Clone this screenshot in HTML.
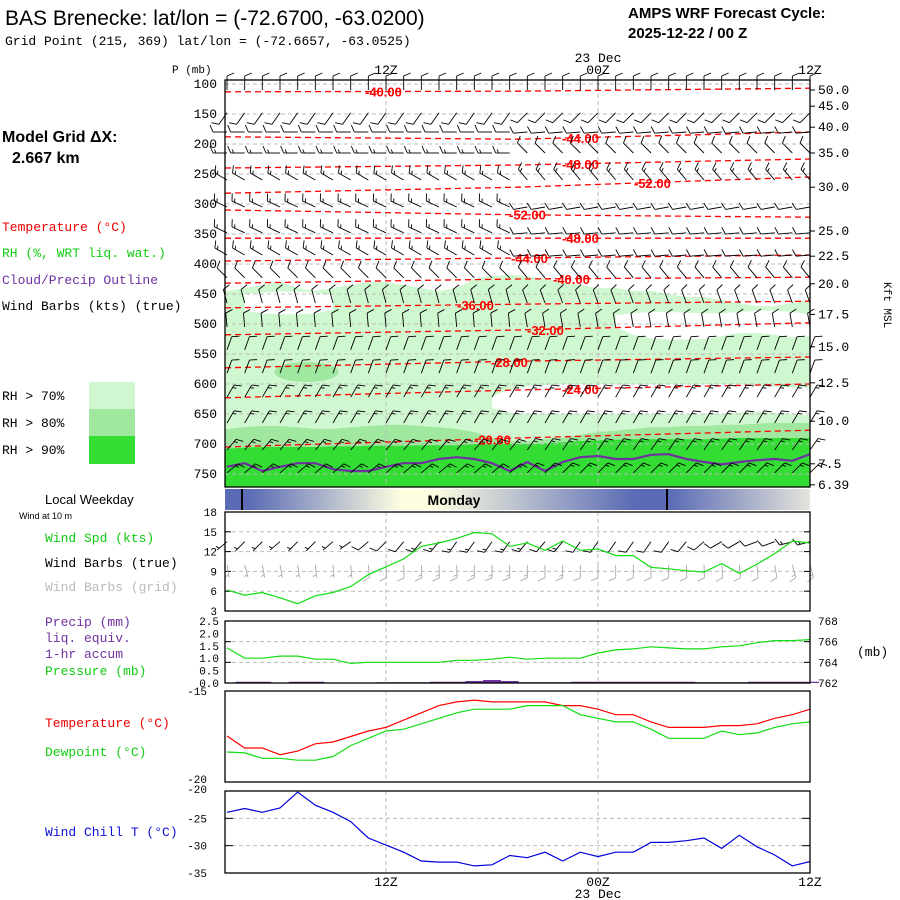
<!DOCTYPE html>
<html><head><meta charset="utf-8"><style>
body{margin:0;background:#fff;}
svg{display:block;font-family:"Liberation Mono",monospace;}
.sans{font-family:"Liberation Sans",Arial,sans-serif;}
</style></head><body>
<svg id="c" width="900" height="900" viewBox="0 0 900 900" xmlns="http://www.w3.org/2000/svg">
<defs>
<linearGradient id="dayg" x1="0" x2="1" y1="0" y2="0">
<stop offset="0" stop-color="#5b6bb5"/><stop offset="0.04" stop-color="#5b6bb5"/>
<stop offset="0.3" stop-color="#fdfde0"/><stop offset="0.36" stop-color="#fdfde0"/>
<stop offset="0.7" stop-color="#5b6bb5"/><stop offset="0.76" stop-color="#5b6bb5"/>
<stop offset="1" stop-color="#e4e4da"/></linearGradient>
</defs>
<g class="sans">
<text x="5" y="25" font-size="21" class="sans">BAS Brenecke:  lat/lon = (-72.6700, -63.0200)</text>
<text x="628" y="18" font-size="15" font-weight="bold" class="sans">AMPS WRF Forecast Cycle:</text>
<text x="628" y="38" font-size="15" font-weight="bold" class="sans">2025-12-22 / 00  Z</text>
</g>
<text x="5" y="45" font-size="13">Grid Point (215, 369) lat/lon = (-72.6657, -63.0525)</text>
<text x="2" y="142" font-size="16" font-weight="bold" class="sans">Model Grid ΔX:</text>
<text x="12" y="163" font-size="16" font-weight="bold" class="sans">2.667 km</text>
<text x="2" y="231" font-size="13" fill="#e00">Temperature (°C)</text>
<text x="2" y="257" font-size="13" fill="#1c1">RH (%, WRT liq. wat.)</text>
<text x="2" y="284" font-size="13" fill="#7030a0">Cloud/Precip Outline</text>
<text x="2" y="310" font-size="13">Wind Barbs (kts) (true)</text>
<rect x="89" y="382" width="46" height="27" fill="#d0f8d0"/>
<rect x="89" y="409" width="46" height="27" fill="#a0e8a0"/>
<rect x="89" y="436" width="46" height="28" fill="#33dd33"/>
<text x="2" y="400" font-size="13">RH &gt; 70%</text>
<text x="2" y="427" font-size="13">RH &gt; 80%</text>
<text x="2" y="454" font-size="13">RH &gt; 90%</text>
<text x="45" y="504" font-size="13" class="sans">Local Weekday</text>
<text x="19" y="519" font-size="9" class="sans">Wind at 10 m</text>
<text x="45" y="542" font-size="13" fill="#1c1">Wind Spd (kts)</text>
<text x="45" y="567" font-size="13">Wind Barbs (true)</text>
<text x="45" y="591" font-size="13" fill="#bbb">Wind Barbs (grid)</text>
<text x="45" y="626" font-size="13" fill="#7030a0">Precip (mm)</text>
<text x="45" y="642" font-size="13" fill="#7030a0">liq. equiv.</text>
<text x="45" y="658" font-size="13" fill="#7030a0">1-hr accum</text>
<text x="45" y="675" font-size="13" fill="#1c1">Pressure (mb)</text>
<text x="45" y="727" font-size="13" fill="#e00">Temperature (°C)</text>
<text x="45" y="756" font-size="13" fill="#1c1">Dewpoint (°C)</text>
<text x="45" y="836" font-size="13" fill="#1010dd">Wind Chill T (°C)</text>
<text x="172" y="73" font-size="11">P (mb)</text>
<text x="857" y="656" font-size="13">(mb)</text>
<text transform="translate(884,282) rotate(90)" font-size="11">Kft MSL</text>
<g id="plot"></g>
</svg>
<script>
// ---------- DATA ----------
const rh70Top=[445,440,435,430,440,445,440,435,430,430,435,440,445,440,425,420,418,420,425,430,435,440,440,445,445,450,455,455,460,465,470,470,465,460];
const hole1Top=[null,450,448,446,446,448,452,null];
const hole1Bot=[null,478,482,484,484,482,476,null];
const hole2Top=[485,482,480,480,481,482,482,480,478,478,480,484];
const hole2Bot=[505,518,524,526,526,525,520,515,515,518,522,520];
const hole3Top=[null,620,610,604,602,600,600,600,600,600,600,600,600,600,600,600,602,604,606,606];
const hole3Bot=[null,640,648,650,650,650,650,650,650,650,650,650,650,650,650,648,646,648,650,652];
const rh80Top=[675,672,670,670,672,675,675,672,670,668,668,670,672,675,680,690,695,695,692,690,685,680,678,675,672,672,670,670,668,668,666,665,665,665];
const rh90Top=[708,706,705,705,705,705,704,704,703,703,703,702,702,702,700,700,700,700,699,697,695,694,693,692,692,692,692,692,691,690,690,690,690,690];
const cloudBase=[738,732,745,738,732,732,742,745,745,738,732,732,725,722,725,732,745,730,745,730,722,720,725,725,718,717,725,730,734,730,727,725,728,717];
const isoLevels=[-40,-44,-48,-52,-52,-48,-44,-40,-36,-32,-28,-24,-20];
const isoLeft=[113,188,240,282,310,357,395,432,473,518,573,623,705];
const isoMid=[112,192,235,272,318,357,390,425,467,510,562,610,690];
const isoRight=[107,180,225,255,322,357,385,422,462,498,555,600,677];
const isoLabelX=[365,562,562,634,509,562,511,553,457,527,491,562,474];
const barbRowP=[110,148,180,215,260,305,348,385,423,465,505,543,582,622,665,710,748];
const barbDirA=[0,215,270,270,300,295,295,300,315,345,355,20,20,30,30,40,50];
const barbSpdA=[10,10,10,15,15,15,15,15,10,10,10,10,10,15,15,15,15];
const barbDirB=[0,225,265,315,320,260,265,265,320,340,350,20,20,30,30,35,45];
const barbSpdB=[10,10,10,10,15,10,10,10,10,10,10,10,10,15,15,15,15];
const windSpd=[6.2,5.4,5.8,5.0,4.1,5.3,5.8,6.7,8.5,9.7,10.9,12.8,13.3,14.0,14.9,14.7,12.8,13.3,12.2,13.6,12.2,12.4,11.4,11.4,9.6,9.4,9.1,8.9,10.2,8.7,10.1,11.7,13.6,13.3];
const sfcDir=[230,225,225,230,225,225,230,235,230,225,220,220,220,215,215,215,215,220,220,220,215,215,215,215,215,215,220,230,240,240,250,250,255,255];
const gridDir=[170,165,170,170,172,175,175,175,175,178,178,178,178,178,180,180,180,180,180,180,180,180,180,180,180,180,178,178,175,175,175,170,165,165];
const pres=[765.4,764.4,764.4,764.6,764.6,764.3,764.3,763.9,764.0,764.0,764.0,764.0,764.0,764.2,764.2,764.3,764.5,764.3,764.4,764.4,764.4,764.9,765.2,765.3,765.5,765.4,765.3,765.3,765.5,765.6,765.9,766.1,766.1,766.2];
const precip=[0,0.05,0.05,0,0.05,0.05,0,0,0,0.03,0.03,0.03,0.05,0.05,0.08,0.12,0.08,0.03,0.03,0.03,0.05,0.05,0.05,0.05,0.05,0.05,0.05,0.03,0.03,0.03,0.05,0.05,0.05,0.05];
const tempC=[-17.47,-18.13,-18.13,-18.5,-18.3,-17.9,-17.8,-17.5,-17.2,-17.0,-16.6,-16.2,-15.8,-15.6,-15.5,-15.6,-15.6,-15.6,-15.6,-15.8,-15.8,-16.0,-16.3,-16.3,-16.7,-17.0,-17.0,-17.0,-16.9,-16.9,-16.8,-16.5,-16.3,-16.0];
const dewC=[-18.35,-18.4,-18.7,-18.7,-18.8,-18.8,-18.6,-18.0,-17.6,-17.2,-17.1,-16.8,-16.5,-16.2,-16.0,-16.0,-16.0,-15.8,-15.8,-15.8,-16.3,-16.5,-16.7,-16.7,-17.1,-17.6,-17.6,-17.6,-17.2,-17.4,-17.3,-17.0,-16.8,-16.7];
const windChill=[-23.9,-23.2,-23.9,-23.1,-20.2,-22.6,-23.9,-25.6,-28.6,-29.9,-31.2,-32.8,-33.0,-33.0,-33.7,-33.5,-31.8,-32.2,-31.2,-32.8,-31.2,-32.0,-31.2,-31.2,-29.4,-29.4,-29.1,-28.6,-30.5,-28.1,-30.2,-31.7,-33.7,-32.9];
const pTicks=[100,150,200,250,300,350,400,450,500,550,600,650,700,750];
const kftLabels=["50.0","45.0","40.0","35.0","30.0","25.0","22.5","20.0","17.5","15.0","12.5","10.0","7.5","6.39"];
const kftP=[110,137,172,215,272,345,387,433,484,538,598,662,733,768];
const spdTicks=[18,15,12,9,6,3];
const precipTicks=[2.5,2.0,1.5,1.0,0.5,0.0];
const presTicks=[768,766,764,762];
const wcTicks=[-20,-25,-30,-35];
// ---------- SCALES ----------
const NS="http://www.w3.org/2000/svg";
const g=document.getElementById('plot');
const L=225,R=810,N=windSpd.length;
const X=i=>386+(-9+i)*(R-386)/24;
const Py=p=>84+(p-100)*0.6;
const Ys=v=>611-(v-3)*(99/15);
const Ypr=v=>683-v*(62/2.5);
const Ypm=v=>683-(v-762)*(62/6);
const Yt=v=>691-(v+15)*(91/5);
const Yw=v=>791-(v+20)*(82/15);
function el(t,a,par){const e=document.createElementNS(NS,t);for(const k in a)e.setAttribute(k,a[k]);(par||g).appendChild(e);return e;}
function txt(x,y,s,a){const e=el('text',Object.assign({x:x,y:y,'font-size':11},a||{}));e.textContent=s;return e;}
function poly(pts){return pts.map(p=>p[0].toFixed(1)+','+p[1].toFixed(1)).join(' ');}
// ---------- RH shading ----------
function band(arr,bottomY,fill,name){
  const pts=arr.map((p,i)=>[X(i),Py(p)]);
  pts.unshift([L,Py(arr[0])]);pts.push([R,Py(arr[arr.length-1])]);
  pts.push([R,bottomY]);pts.push([L,bottomY]);
  const e=el('polygon',{points:poly(pts),fill:fill});
  
  
}
band(rh70Top,487,'#d0f8d0','rh70-area');
function hole(tops,bots,i0,name){
  const up=[],dn=[];
  tops.forEach((t,k)=>{if(t!==null){up.push([X(i0+k),Py(t)]);dn.unshift([X(i0+k),Py(bots[k])]);}});
  const e=el('polygon',{points:poly(up.concat(dn)),fill:'#fff'});
  
  
}
hole(hole1Top,hole1Bot,0,'rh-gap-upper-left');
hole(hole2Top,hole2Bot,22,'rh-gap-upper-right');
hole(hole3Top,hole3Bot,14,'rh-gap-mid');
band(rh80Top,487,'#a0e8a0','rh80-area');
band(rh90Top,487,'#33dd33','rh90-area');
const blob=el('ellipse',{cx:X(4.5),cy:Py(580),rx:32,ry:10,fill:'#a0e8a0'});


// grid
pTicks.forEach(p=>{
  const e=el('line',{x1:L,x2:R,y1:Py(p),y2:Py(p),stroke:'#bbb','stroke-dasharray':'4,3'});
  
  
  const t=txt(217,Py(p)+4,String(p),{'text-anchor':'end','font-size':13});
  
  
});
[386,598].forEach(x=>{
  [[80,487],[512,611],[621,683],[691,782],[791,873]].forEach(r=>{
    const e=el('line',{x1:x,x2:x,y1:r[0],y2:r[1],stroke:'#bbb','stroke-dasharray':'4,3'});
    
    
  });
});
// isotherms
isoLevels.forEach((lv,k)=>{
  const pts=[[L,Py(isoLeft[k])],[(L+R)/2,Py(isoMid[k])],[R,Py(isoRight[k])]];
  const e=el('polyline',{points:poly(pts),fill:'none',stroke:'#f00','stroke-width':1.3,'stroke-dasharray':'6,4'});
  
  
  const f=(isoLabelX[k]-L)/(R-L);
  const py=f<0.5?isoLeft[k]+(isoMid[k]-isoLeft[k])*f*2:isoMid[k]+(isoRight[k]-isoMid[k])*(f-0.5)*2;
  const t=txt(isoLabelX[k],Py(py)+5,lv.toFixed(2),{fill:'#f00','font-size':13,'font-weight':'bold','class':'sans','font-family':'Liberation Sans, sans-serif'});
  
  
});
// cloud base
{const e=el('polyline',{points:poly(cloudBase.map((p,i)=>[X(i),Py(p)])),fill:'none',stroke:'#7030a0','stroke-width':2.2});

}
// barbs
function barb(x,y,dir,spd,col,len){
  const gg=el('g',{stroke:col,'stroke-width':0.9,fill:col});
  
  
  const a=dir*Math.PI/180,ux=Math.sin(a),uy=-Math.cos(a);
  const ex=x+ux*len,ey=y+uy*len;
  el('line',{x1:x,y1:y,x2:ex,y2:ey},gg);
  const px=-uy,py=ux;
  let s=spd,pos=0;
  while(s>=47.5){const b0=[ex-ux*pos,ey-uy*pos],b1=[ex-ux*(pos+4),ey-uy*(pos+4)];
    el('polygon',{points:poly([b0,[b0[0]+px*7,b0[1]+py*7],b1])},gg);s-=50;pos+=5;}
  while(s>=7.5){const bx=ex-ux*pos,by=ey-uy*pos;
    el('line',{x1:bx,y1:by,x2:bx+px*7+ux*3,y2:by+py*7+uy*3},gg);s-=10;pos+=3;}
  if(s>=2.5){if(pos===0)pos=3;const bx=ex-ux*pos,by=ey-uy*pos;
    el('line',{x1:bx,y1:by,x2:bx+px*3.5+ux*1.5,y2:by+py*3.5+uy*1.5},gg);}
}
barbRowP.forEach((p,r)=>{
  for(let i=0;i<N;i++){
    const half=i<N/2;
    barb(X(i),Py(p),half?barbDirA[r]:barbDirB[r],half?barbSpdA[r]:barbSpdB[r],'#000',14);
  }
});
// main frame
{const e=el('rect',{x:L,y:80,width:R-L,height:407,fill:'none',stroke:'#000','stroke-width':1.3});

}
kftLabels.forEach((s,k)=>{
  const t=txt(818,Py(kftP[k])+4,s,{'font-size':13});
  
  
  el('line',{x1:R,x2:R+5,y1:Py(kftP[k]),y2:Py(kftP[k]),stroke:'#000'});
});
// time labels
[['12Z',386,74],['00Z',598,74],['23 Dec',598,62],['12Z',810,74],['12Z',386,886],['00Z',598,886],['23 Dec',598,898],['12Z',810,886]].forEach(a=>{
  const t=txt(a[1],a[2],a[0],{'text-anchor':'middle','font-size':13});
  
  
});
// day bar
{const e=el('rect',{x:L,y:489,width:R-L,height:21,fill:'url(#dayg)'});


[242,667].forEach(x=>el('line',{x1:x,x2:x,y1:489,y2:510,stroke:'#000','stroke-width':2}));
const t=txt(454,505,'Monday',{'text-anchor':'middle','font-size':14,'font-weight':'bold','font-family':'Liberation Sans, sans-serif'});

}
// wind speed panel
spdTicks.forEach(v=>{
  const t=txt(217,Ys(v)+4,String(v),{'text-anchor':'end','font-size':11});
  
  
  if(v<18&&v>3){el('line',{x1:L,x2:R,y1:Ys(v),y2:Ys(v),stroke:'#bbb','stroke-dasharray':'4,3'});
  el('line',{x1:L,x2:L+6,y1:Ys(v),y2:Ys(v),stroke:'#000'});el('line',{x1:R-6,x2:R,y1:Ys(v),y2:Ys(v),stroke:'#000'});}
});
for(let i=0;i<N;i++){barb(X(i),Ys(13.5),sfcDir[i],windSpd[i],'#000',13);barb(X(i),Ys(10),gridDir[i],windSpd[i],'#aaa',13);}
{const e=el('polyline',{points:poly(windSpd.map((v,i)=>[X(i),Ys(v)])),fill:'none',stroke:'#1d1','stroke-width':1.2});


const f=el('rect',{x:L,y:512,width:R-L,height:99,fill:'none',stroke:'#000','stroke-width':1.3});

}
// precip/pressure panel
precipTicks.forEach(v=>{const t=txt(219,Ypr(v)+4,v.toFixed(1),{'text-anchor':'end','font-size':11});
  
  });
presTicks.forEach(v=>{const t=txt(818,Ypm(v)+4,String(v),{'font-size':11});
  
  
  if(v>762&&v<768){el('line',{x1:L,x2:R,y1:Ypm(v),y2:Ypm(v),stroke:'#bbb','stroke-dasharray':'4,3'});
  el('line',{x1:L,x2:L+6,y1:Ypm(v),y2:Ypm(v),stroke:'#000'});el('line',{x1:R-6,x2:R,y1:Ypm(v),y2:Ypm(v),stroke:'#000'});}});
precip.forEach((v,i)=>{if(v>0){const b=el('rect',{x:X(i)-9,y:Ypr(v),width:18,height:683-Ypr(v),fill:'#7030a0'});
  
  }});
{const e=el('polyline',{points:poly(pres.map((v,i)=>[X(i),Ypm(v)])),fill:'none',stroke:'#1d1','stroke-width':1.2});


const f=el('rect',{x:L,y:621,width:R-L,height:62,fill:'none',stroke:'#000','stroke-width':1.3});

}
// temperature panel
[[-15,Yt(-15)+4],[-20,Yt(-20)+1]].forEach(a=>{const t=txt(207,a[1],String(a[0]),{'text-anchor':'end','font-size':11});
  
  });
{const e=el('polyline',{points:poly(tempC.map((v,i)=>[X(i),Yt(v)])),fill:'none',stroke:'#f00','stroke-width':1.2});


const d=el('polyline',{points:poly(dewC.map((v,i)=>[X(i),Yt(v)])),fill:'none',stroke:'#1d1','stroke-width':1.2});


const f=el('rect',{x:L,y:691,width:R-L,height:91,fill:'none',stroke:'#000','stroke-width':1.3});

}
// wind chill panel
wcTicks.forEach(v=>{const t=txt(207,Yw(v)+(v===-20?2:4),String(v),{'text-anchor':'end','font-size':11});
  
  
  if(v>-35&&v<-20){el('line',{x1:L,x2:R,y1:Yw(v),y2:Yw(v),stroke:'#bbb','stroke-dasharray':'4,3'});
  el('line',{x1:L,x2:L+8,y1:Yw(v),y2:Yw(v),stroke:'#000'});el('line',{x1:R-8,x2:R,y1:Yw(v),y2:Yw(v),stroke:'#000'});}});
{const e=el('polyline',{points:poly(windChill.map((v,i)=>[X(i),Yw(v)])),fill:'none',stroke:'#0000dd','stroke-width':1.2});


const f=el('rect',{x:L,y:791,width:R-L,height:82,fill:'none',stroke:'#000','stroke-width':1.3});

}
</script>
</body></html>
